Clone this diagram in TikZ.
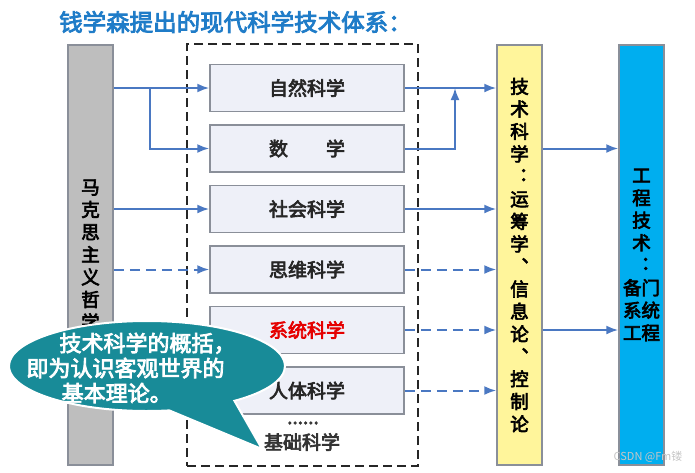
\documentclass[tikz,border=0pt]{standalone}
\usepackage{fontspec}
\setmainfont{Noto Sans CJK SC}[AutoFakeBold=3.5]
\usetikzlibrary{arrows.meta,positioning,shapes.callouts}
\definecolor{titleblue}{HTML}{1F7CC8}
\definecolor{arrowblue}{HTML}{4A78C2}
\definecolor{boxfill}{HTML}{EEF0F8}
\definecolor{boxline}{HTML}{8A8F99}
\definecolor{bargray}{HTML}{BEBEBE}
\definecolor{baryellow}{HTML}{FFF59B}
\definecolor{barblue}{HTML}{00AEEF}
\definecolor{callteal}{HTML}{188B98}
\definecolor{bgblue}{HTML}{CFE7F5}

\begin{document}
\begin{tikzpicture}[x=1pt, y=-1pt, >=Latex,
  every node/.style={align=center, inner sep=0pt},
  sci/.style={draw=boxline, line width=1.5pt, fill=boxfill, minimum width=194pt, minimum height=47pt, font=\fontsize{19}{22}\selectfont\bfseries, text=black!85},
  bar/.style={draw=boxline, line width=1.5pt, minimum width=45pt, minimum height=420pt, font=\fontsize{18.5}{22.5}\selectfont\bfseries},
  arr/.style={->, draw=arrowblue, line width=2pt},
  darr/.style={arr, dash pattern=on 10pt off 6pt}]
  \shade[left color=white, middle color=bgblue, right color=white] (0,0) rectangle (695,472);
  \node[font=\fontsize{23.5}{26}\selectfont\bfseries, text=titleblue, anchor=west] (title) at (59,22) {钱学森提出的现代科学技术体系：};

  \node[bar, fill=bargray] (zhexue) at (90.5,255) {马\\克\\思\\主\\义\\哲\\学};
  \node[draw=black!85, line width=2.5pt, dash pattern=on 9pt off 5pt, minimum width=231pt, minimum height=422pt] (jichu) at (302.5,255) {};
  \node[sci] (ziran) at (307,88) {自然科学};
  \node[sci, below=12pt of ziran] (shuxue) {数\hspace{2em}学};
  \node[sci, below=12pt of shuxue] (shehui) {社会科学};
  \node[sci, below=12pt of shehui] (siwei) {思维科学};
  \node[sci, below=12pt of siwei, text=red!90!black] (xitong) {系统科学};
  \node[sci, below=12pt of xitong] (renti) {人体科学};
  \node[font=\fontsize{19}{22}\selectfont\bfseries, text=black!80] (dots) at (303,423) {......};
  \node[font=\fontsize{19}{22}\selectfont\bfseries, text=black!80] (jclabel) at (302,442) {基础科学};

  \node[bar, fill=baryellow] (jishu) at (519.5,255) {技\\术\\科\\学\\︓\\运\\筹\\学\\︑\\信\\息\\论\\︑\\控\\制\\论};
  \node[bar, fill=barblue] (gongcheng) at (641.5,255) {工\\程\\技\\术\\︓\\备门\\系统\\工程};

  \coordinate (lsplit) at (150,88);
  \coordinate (rsplit) at (455,88);
  \draw[arr] (zhexue.east |- ziran) -- (ziran.west);
  \draw[arr] (lsplit) |- (shuxue.west);
  \draw[arr] (zhexue.east |- shehui) -- (shehui.west);
  \draw[darr] (zhexue.east |- siwei) -- (siwei.west);
  \draw[darr] (zhexue.east |- xitong) -- (xitong.west);
  \draw[darr] (zhexue.east |- renti) -- (renti.west);
  \draw[arr] (ziran.east) -- (jishu.west |- ziran);
  \draw[arr] (shuxue.east) -| (rsplit);
  \draw[arr] (shehui.east) -- (jishu.west |- shehui);
  \draw[darr] (siwei.east) -- (jishu.west |- siwei);
  \draw[darr] (xitong.east) -- (jishu.west |- xitong);
  \draw[darr] (renti.east) -- (jishu.west |- renti);
  \draw[arr] (jishu.east |- shuxue) -- (gongcheng.west |- shuxue);
  \draw[arr] (jishu.east |- xitong) -- (gongcheng.west |- xitong);

  % callout over the left side
  \coordinate (tip) at (262,449);
  \node[ellipse callout, callout absolute pointer={(tip)}, callout pointer arc=30, draw=white, line width=2pt, fill=callteal, minimum width=276pt, minimum height=90pt] (note) at (147,366) {};
  \node[text=white, font=\fontsize{22}{25}\selectfont\bfseries, align=left] (notetext) at (131,368) {\hspace*{1.5em}技术科学的概括，\\即为认识客观世界的\\\hspace*{1.6em}基本理论。};

  \node[font=\fontsize{11}{12}\selectfont, text=white!55!gray] (wm) at (648,457) {CSDN @Fm镂};
\end{tikzpicture}
\end{document}
